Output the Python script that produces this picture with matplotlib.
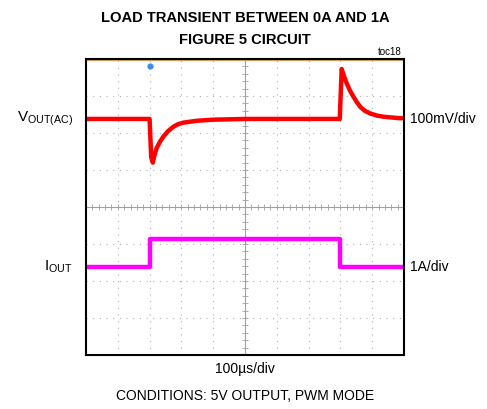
import matplotlib
matplotlib.use("Agg")
import matplotlib.pyplot as plt
import numpy as np

plt.rcParams['font.family'] = ['Liberation Sans', 'DejaVu Sans']
plt.rcParams['mathtext.default'] = 'regular'

# scope traces in divisions (x: 0-10, y: 0-8)
vout_t = [0, 2.0, 2.05, 2.1, 2.16, 2.22, 2.33, 2.43, 2.58, 2.75, 2.9, 3.06,
          3.48, 4.0, 5.0, 7.98, 8.04, 8.12, 8.2, 8.3, 8.41, 8.52, 8.62, 8.77,
          8.93, 9.15, 9.35, 9.6, 9.87, 10]
vout_v = [6.38, 6.38, 5.35, 5.2, 5.42, 5.59, 5.77, 5.9, 6.05, 6.17, 6.24, 6.28,
          6.33, 6.36, 6.38, 6.38, 7.73, 7.52, 7.34, 7.15, 6.98, 6.83, 6.71, 6.6,
          6.53, 6.47, 6.44, 6.42, 6.4, 6.4]

iout_t = [0, 2.0, 2.0, 8.0, 8.0, 10]
iout_v = [2.38, 2.38, 3.14, 3.14, 2.38, 2.38]

trig_t = 2.02
trig_v = 7.82

fig = plt.figure(figsize=(4.87, 4.09), dpi=100)
ax = fig.add_axes([86/487, 1-355/409, 318/487, 296/409])
ax.set_xlim(0, 10)
ax.set_ylim(0, 8)

# graticule
for gx in range(1, 10):
    if gx != 5:
        ax.axvline(gx, color='#b0b0b0', lw=0.8, ls=(0, (1, 5)))
for gy in range(1, 8):
    if gy != 4:
        ax.axhline(gy, color='#b0b0b0', lw=0.8, ls=(0, (1, 5)))
ax.axvline(5, color='#a0a0a0', lw=0.8)
ax.axhline(4, color='#a0a0a0', lw=0.8)
ticks_x = np.arange(0, 10.01, 0.2)
ticks_y = np.arange(0, 8.01, 0.2)
ax.plot(ticks_x, [4]*len(ticks_x), '|', color='#a0a0a0', ms=4, mew=0.6)
ax.plot([5]*len(ticks_y), ticks_y, '_', color='#a0a0a0', ms=4, mew=0.6)
ax.axhline(7.97, color='#e0a060', lw=0.8)

ax.plot(vout_t, vout_v, color='#ff0000', lw=3.2, solid_joinstyle='round')
ax.plot(iout_t, iout_v, color='#ff00ff', lw=3.2)
ax.plot(trig_t, trig_v, marker='o', ms=3.5, color='#3b8ee8', mec='#3b8ee8')

ax.set_xticks([])
ax.set_yticks([])
for s in ax.spines.values():
    s.set_linewidth(1.5)
    s.set_color('black')

fig.text(245/487, 1-18/409, 'LOAD TRANSIENT BETWEEN 0A AND 1A', ha='center',
         va='center', fontsize=10.6, fontweight='bold')
fig.text(245/487, 1-40/409, 'FIGURE 5 CIRCUIT', ha='center', va='center',
         fontsize=10.6, fontweight='bold')
fig.text(402/487, 1-52/409, 'toc18', ha='right', va='center', fontsize=7)

fig.text(73/487, 1-119/409, r'V$_{OUT(AC)}$', ha='right', va='center', fontsize=11)
fig.text(73/487, 1-267/409, r'I$_{OUT}$', ha='right', va='center', fontsize=11)
fig.text(410/487, 1-119/409, '100mV/div', ha='left', va='center', fontsize=10)
fig.text(410/487, 1-267/409, '1A/div', ha='left', va='center', fontsize=10)
fig.text(245/487, 1-369/409, '100µs/div', ha='center', va='center', fontsize=10)
fig.text(245/487, 1-396/409, 'CONDITIONS: 5V OUTPUT, PWM MODE', ha='center',
         va='center', fontsize=10)

fig.savefig('out.png', dpi=100)
